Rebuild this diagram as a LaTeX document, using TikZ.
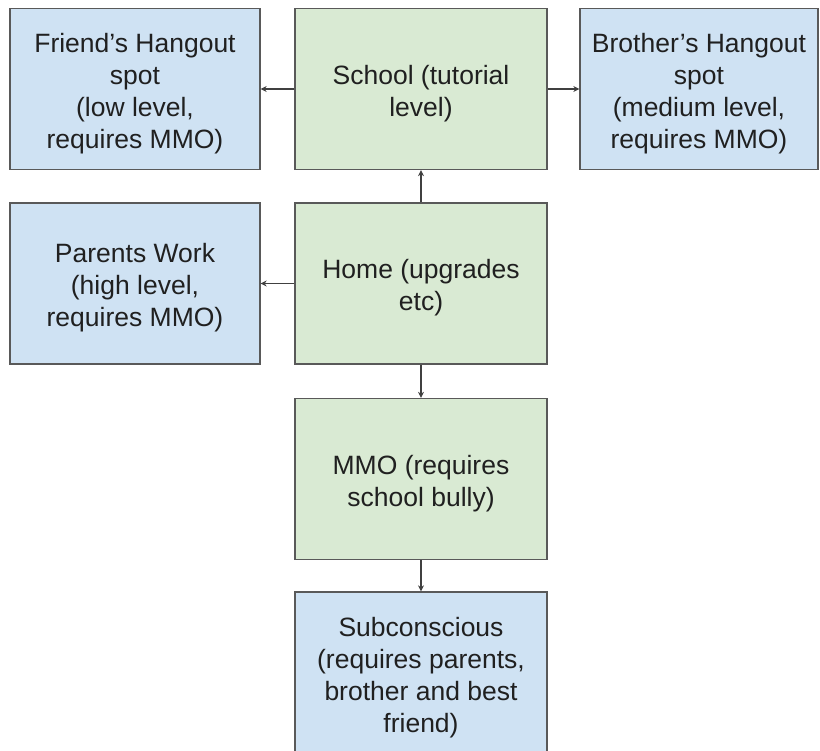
\documentclass[tikz,border=0pt]{standalone}
\usepackage{fontspec}
\setmainfont{Liberation Sans}
\usetikzlibrary{arrows.meta}
\definecolor{bluefill}{HTML}{CFE2F3}
\definecolor{greenfill}{HTML}{D9EAD3}
\definecolor{boxline}{HTML}{595959}
\definecolor{arrline}{HTML}{404040}
\definecolor{txt}{HTML}{202020}
\tikzset{
  box/.style={draw=boxline, line width=1.3pt, inner sep=0pt, minimum height=161pt},
  bluebox/.style={box, fill=bluefill},
  greenbox/.style={box, fill=greenfill},
  boxtext/.style={align=center, text=txt, inner sep=0pt, yshift=-4.5pt,
    font=\fontsize{26.5}{32}\selectfont},
  conn/.style={draw=arrline, line width=1.2pt, -{Stealth[length=6pt,width=6pt]}}
}
\begin{document}
\begin{tikzpicture}[x=1pt,y=-1pt]
\useasboundingbox (0,0) rectangle (820,751);
\clip (0,0) rectangle (820,751);
\fill[white] (0,0) rectangle (820,751);
\node[bluebox, minimum width=250pt, label={[boxtext]center:{Friend’s Hangout\\spot\\(low level,\\requires MMO)}}] (friend) at (135,89) {};
\node[greenbox, minimum width=252pt, label={[boxtext]center:{School (tutorial\\level)}}] (school) at (421,89) {};
\node[bluebox, minimum width=238pt, label={[boxtext]center:{Brother’s Hangout\\spot\\(medium level,\\requires MMO)}}] (brother) at (699,89) {};
\node[bluebox, minimum width=250pt, label={[boxtext]center:{Parents Work\\(high level,\\requires MMO)}}] (parents) at (135,283.5) {};
\node[greenbox, minimum width=252pt, label={[boxtext]center:{Home (upgrades\\etc)}}] (home) at (421,283.5) {};
\node[greenbox, minimum width=252pt, label={[boxtext]center:{MMO (requires\\school bully)}}] (mmo) at (421,479) {};
\node[bluebox, minimum width=252pt, minimum height=162pt, label={[boxtext]center:{Subconscious\\(requires parents,\\brother and best\\friend)}}] (sub) at (421,673) {};
\draw[conn] (school.west) -- (friend.east);
\draw[conn] (school.east) -- (brother.west);
\draw[conn] (home.north) -- (school.south);
\draw[conn] (home.west) -- (parents.east);
\draw[conn] (home.south) -- (mmo.north);
\draw[conn] (mmo.south) -- (sub.north);
\end{tikzpicture}
\end{document}
